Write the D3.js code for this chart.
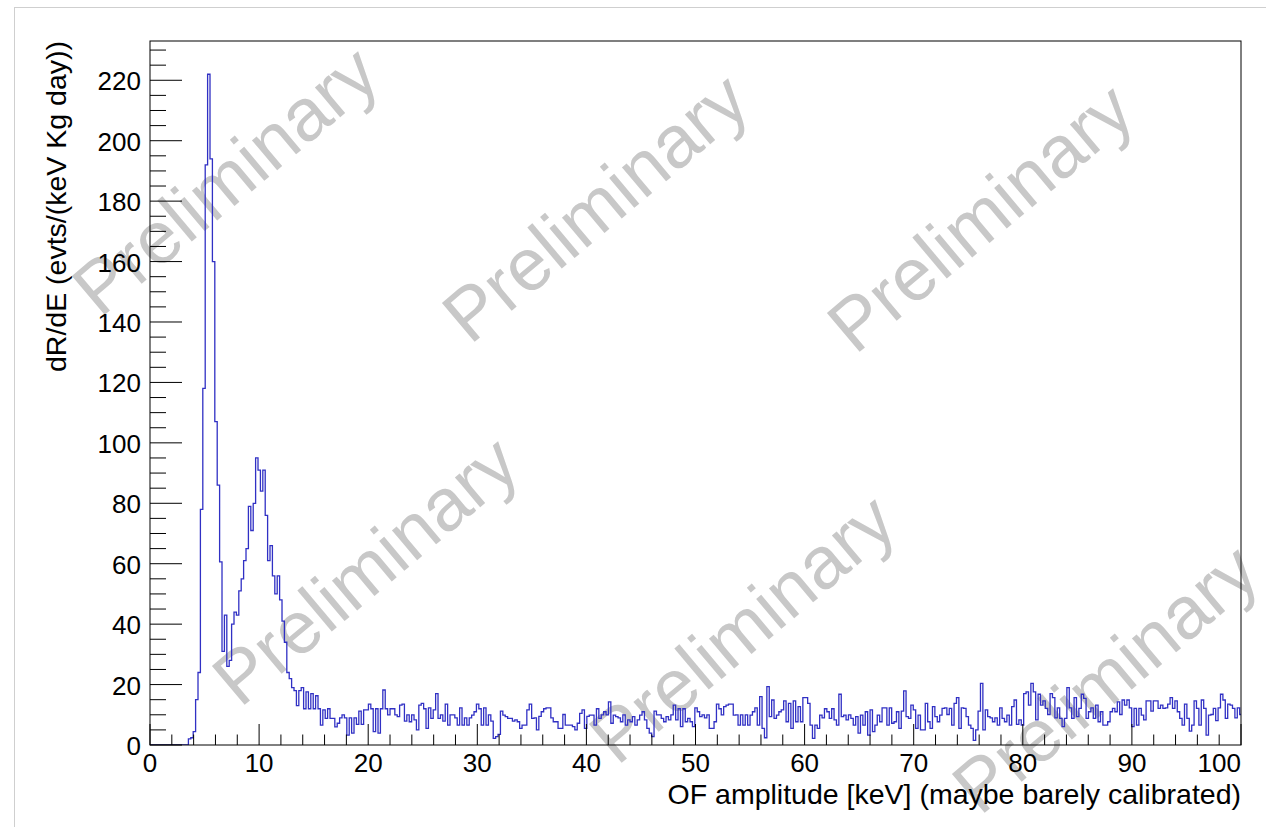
<!DOCTYPE html>
<html>
<head>
<meta charset="utf-8">
<script src="https://cdn.jsdelivr.net/npm/d3@7"></script>
<style>
  body { margin: 0; background: #fff; }
  svg { display: block; font-family: "Liberation Sans", Arial, Helvetica, sans-serif; }
</style>
</head>
<body>
<div id="canvas"></div>
<script>
/**
 * Data
 */
const binWidth = 0.22;   // keV per bin

// bins 0..62 (0 - 13.86 keV): threshold and the two peaks
const peakCounts = [
    0, 0, 0, 0, 0, 0, 0, 0, 0, 0, 0, 0, 0, 0, 0, 0,
    2, 2.4, 4.4, 15, 24, 78, 118, 192, 222, 194, 160, 107, 86, 60.6,
    31, 43, 26, 28, 40, 44, 43, 51, 55, 61, 65, 79, 71, 80, 95, 91,
    84, 91, 76, 61, 66, 56, 50, 56, 48, 41, 34, 24, 22, 19, 18, 13, 18
];

// bins 63..195 (13.86 - 43.12 keV)
const flatCounts1 = [
    19, 12, 17.6, 12, 17, 12, 16.3, 12, 6.6, 11.6,
    8.8, 12, 8.8, 8.8, 6, 7.2, 9, 10, 9, 3.3,
    9, 3.9, 9, 6.8, 11.2, 6.8, 11.6, 11.6, 13.5, 12,
    4.4, 12, 3.9, 12, 18.2, 12, 10, 12, 12, 10,
    9.4, 13.2, 13.5, 7.9, 10, 7.7, 10, 8.3, 5, 13.2,
    13.8, 12, 5.5, 12.3, 8.8, 11.6, 17, 8.8, 10, 7.9,
    13.5, 6.6, 10, 10, 9, 6.6, 12.3, 6.6, 9, 6.6,
    9, 9.9, 11, 13.5, 12, 6.6, 12.3, 6.6, 10, 7.9,
    2.2, 2.8, 3.5, 11.2, 9.9, 9.4, 8.8, 8.8, 7.9, 8.3,
    7.7, 5.5, 6.6, 6.6, 11.6, 13.5, 8.8, 9, 5, 9.5,
    11, 12, 12.3, 12.3, 9, 7.7, 7.7, 5.5, 5.5, 10.1,
    6.6, 6.6, 6.6, 6.1, 5, 7.2, 10.5, 11.6, 5.5, 9.5,
    9.9, 9.9, 6.6, 12, 8.8, 10, 11, 10, 14.3, 7.2,
    9.9, 9.4, 9
];

// bins 196..327 (43.12 - 72.16 keV)
const flatCounts2 = [
    7.7, 10, 6.6, 8.3, 7.7, 9.4, 6.6, 8.3, 9.9, 11,
    8.3, 5.5, 3.9, 2.8, 11.2, 10, 10, 8.8, 7.7, 9.4,
    8.3, 10, 13.2, 8.3, 12, 6.1, 12, 7.7, 8.8, 7.7,
    6.1, 12.3, 11, 9.4, 10, 9, 10, 5.5, 5.5, 7.7,
    13.5, 12, 10, 12.7, 13.2, 13.5, 13.5, 9.9, 10, 6.6,
    10, 6.6, 10, 6.6, 9.9, 11, 12.3, 6.6, 16, 5.5,
    2.4, 19.3, 9.4, 14.9, 8.8, 9.9, 11, 11.6, 14.6, 7.7,
    13.8, 5.5, 14.6, 7.7, 12.7, 7.7, 15.7, 15.7, 13.8, 6.6,
    2.2, 6.6, 5.5, 9.9, 9, 12, 11, 8.8, 12, 8.3,
    6.6, 16.8, 9.4, 9.9, 8.3, 10, 8.8, 6.6, 9.4, 3.9,
    9.9, 6.6, 11, 3.3, 11.6, 4.4, 6.6, 9.9, 7.7, 12.3,
    12.3, 6.6, 12.3, 7.2, 7.7, 11, 5.5, 11.2, 17.9, 9.4,
    8.8, 13.2, 11.6, 5.5, 9.9, 5, 5, 13.8, 7.7, 5.5,
    12.7, 9.4
];

// bins 328..455 (72.16 - 100.32 keV)
const flatCounts3 = [
    7.7, 9.9, 12.1, 12.3, 10.1, 12.1, 6.6, 13.8, 15.7, 5.5,
    12.3, 12.1, 9.4, 6.6, 5.5, 1.5, 5, 11.2, 20.4, 5,
    11.6, 9.4, 9, 7.7, 9, 6.6, 12.3, 8.8, 7.7, 9.9,
    6.6, 12.7, 14.9, 6.8, 8.3, 6.6, 17, 17.6, 13.2, 20.4,
    17.6, 8.3, 16.8, 13.2, 14.6, 12.1, 10.1, 17, 15.7, 9,
    12.3, 8.8, 6.1, 8.8, 19, 12.3, 8.8, 15.7, 9.4, 12.1,
    16.8, 15.4, 8.8, 11, 12.3, 8.8, 13.2, 7.7, 11, 6.6,
    6.6, 7.7, 11, 12.1, 11, 14.3, 10.1, 14.9, 13.2, 14.9,
    12.3, 6.1, 12.1, 6.6, 12.1, 9.9, 8.3, 14.6, 14.6, 11.2,
    14.6, 14.6, 12.1, 13.2, 12.1, 12.3, 13.5, 15.7, 12.1, 14.6,
    11, 8.8, 6.6, 13.5, 8.8, 4.6, 6.6, 14.6, 12.1, 6.6,
    14.9, 12.1, 3.3, 9.9, 10.1, 12.1, 8.1, 12.3, 16.8, 14.9,
    8.8, 13.5, 13.2, 12.1, 9, 12.3, 10.1, 12.1
];

const xDomain = [0, 100];
const yDomain = [0, 233];
const xTickLabels = [0, 10, 20, 30, 40, 50, 60, 70, 80, 90, 100];
const yTickLabels = [0, 20, 40, 60, 80, 100, 120, 140, 160, 180, 200, 220];

const xTitle = "OF amplitude [keV] (maybe barely calibrated)";
const yTitle = "dR/dE (evts/(keV Kg day))";
const watermark = "Preliminary";

/**
 * Layout
 */
const width = 1266, height = 827;
const frame = {left: 150, right: 1241, top: 41, bottom: 745};
const watermarkCenters = [[225, 180], [595, 207], [980, 217], [365, 570], [742, 628], [1105, 678]];

const counts = peakCounts.concat(flatCounts1, flatCounts2, flatCounts3);
const bins = counts.map((c, i) => ({x0: i * binWidth, x1: (i + 1) * binWidth, y: c}));

let svg = d3.select("#canvas")
    .append("svg")
    .attr("width", width)
    .attr("height", height);

// page border
svg.append("rect")
    .attr("x", 14.5).attr("y", 7.5)
    .attr("width", width).attr("height", height)
    .attr("fill", "none")
    .attr("stroke", "#cfcfcf");

let x = d3.scaleLinear().domain(xDomain).range([frame.left, frame.right]);
let y = d3.scaleLinear().domain(yDomain).range([frame.bottom, frame.top]);

// watermarks sit underneath everything
svg.append("g")
    .selectAll("text")
    .data(watermarkCenters)
    .enter()
    .append("text")
    .attr("transform", d => "translate(" + d[0] + "," + d[1] + ") rotate(-40)")
    .attr("text-anchor", "middle")
    .attr("dy", "0.35em")
    .style("font-size", "74px")
    .attr("fill", "#c8c8c8")
    .text(watermark);

svg.append("defs").append("clipPath")
    .attr("id", "clip")
    .append("rect")
    .attr("x", frame.left).attr("y", frame.top)
    .attr("width", frame.right - frame.left)
    .attr("height", frame.bottom - frame.top);

// histogram outline, ROOT style steps
let pts = [[x(bins[0].x0), y(0)]];
bins.forEach(b => {
    pts.push([x(b.x0), y(b.y)]);
    pts.push([x(b.x1), y(b.y)]);
});

svg.append("g").attr("clip-path", "url(#clip)")
    .append("path")
    .datum(pts)
    .attr("fill", "none")
    .attr("stroke", "#3030c4")
    .attr("stroke-width", 1.3)
    .attr("d", d3.line());

// frame
svg.append("rect")
    .attr("x", frame.left).attr("y", frame.top)
    .attr("width", frame.right - frame.left)
    .attr("height", frame.bottom - frame.top)
    .attr("fill", "none")
    .attr("stroke", "#000")
    .attr("stroke-width", 1);

// x ticks (major every 10, minor every 2), pointing up
let xMinor = d3.range(xDomain[0], xDomain[1] + 0.001, 2);
svg.append("g")
    .selectAll("line")
    .data(xMinor)
    .enter()
    .append("line")
    .attr("x1", d => x(d)).attr("x2", d => x(d))
    .attr("y1", frame.bottom)
    .attr("y2", d => frame.bottom - (d % 10 === 0 ? 21 : 10.5))
    .attr("stroke", "#000");

svg.append("g")
    .selectAll("text")
    .data(xTickLabels)
    .enter()
    .append("text")
    .attr("x", d => d === 100 ? x(d) : x(d))
    .attr("y", 772)
    .attr("text-anchor", d => d === 100 ? "end" : "middle")
    .style("font-size", "26px")
    .text(d => d);

// y ticks (major every 20, minor every 5), pointing right
let yMinor = d3.range(yDomain[0], yDomain[1], 5);
svg.append("g")
    .selectAll("line")
    .data(yMinor)
    .enter()
    .append("line")
    .attr("y1", d => y(d)).attr("y2", d => y(d))
    .attr("x1", frame.left)
    .attr("x2", d => frame.left + (d % 20 === 0 ? 32 : 16))
    .attr("stroke", "#000");

svg.append("g")
    .selectAll("text")
    .data(yTickLabels)
    .enter()
    .append("text")
    .attr("x", 141)
    .attr("y", d => y(d) + 10)
    .attr("text-anchor", "end")
    .style("font-size", "26px")
    .text(d => d);

// axis titles
svg.append("text")
    .attr("x", frame.right)
    .attr("y", 804)
    .attr("text-anchor", "end")
    .style("font-size", "28.5px")
    .text(xTitle);

svg.append("text")
    .attr("transform", "translate(66," + frame.top + ") rotate(-90)")
    .attr("text-anchor", "end")
    .style("font-size", "28.5px")
    .text(yTitle);
</script>
</body>
</html>
